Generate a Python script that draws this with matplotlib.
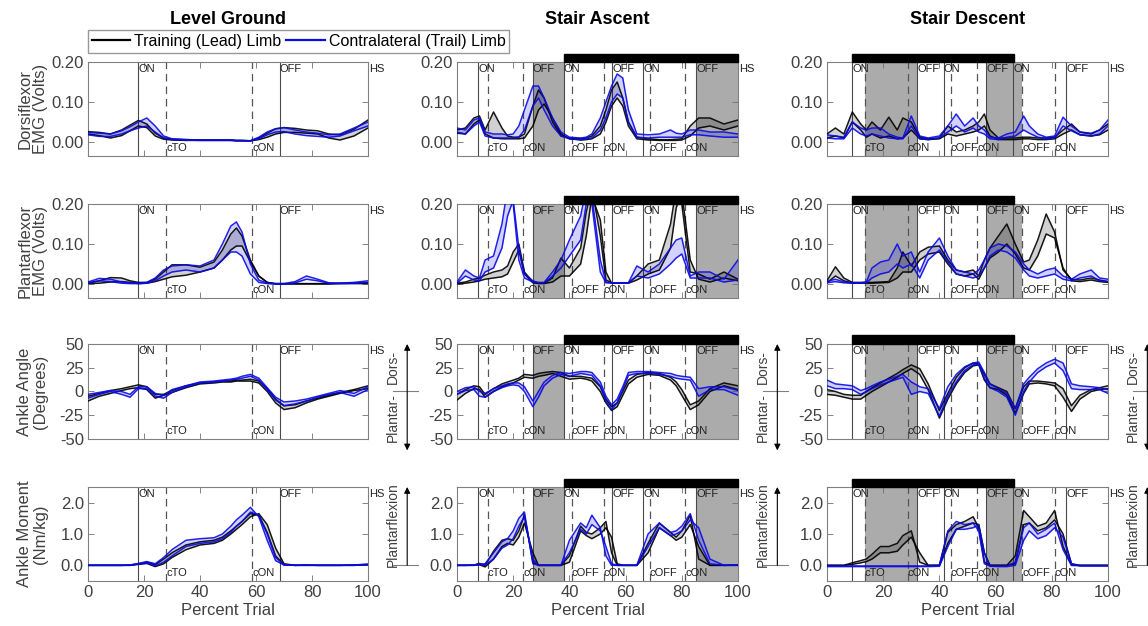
import matplotlib
matplotlib.use("Agg")
import matplotlib.pyplot as plt
import matplotlib.transforms as mtransforms
from matplotlib.patches import Rectangle
from matplotlib.lines import Line2D

plt.rcParams['font.family'] = ['Liberation Sans', 'DejaVu Sans']

# ---------------- data (percent trial knots per task) ----------------
x_level = [0, 4, 8, 12, 15, 18, 21, 24, 27, 30, 35, 40, 45, 48, 51, 53, 55, 58, 61, 64,
           67, 70, 74, 78, 82, 86, 90, 95, 100]
x_ascent = [0, 3, 6, 8, 10, 13, 16, 18, 20, 22, 24, 27, 29, 31, 34, 37, 40, 44, 46, 48,
            51, 53, 55, 57, 59, 61, 64, 68, 72, 76, 78, 80, 83, 86, 90, 95, 100]
x_descent = [0, 3, 6, 9, 12, 14, 16, 19, 22, 25, 27, 30, 33, 36, 40, 43, 46, 49, 52, 54,
             56, 58, 61, 64, 67, 70, 72, 75, 78, 81, 84, 87, 90, 94, 97, 100]

# dorsiflexor EMG (V): [trial a, trial b]
dorsi_level_lead = [
    [0.026, 0.024, 0.020, 0.030, 0.042, 0.054, 0.045, 0.022, 0.010, 0.007, 0.006, 0.005, 0.005, 0.005, 0.005,
     0.004, 0.004, 0.003, 0.010, 0.022, 0.033, 0.036, 0.034, 0.030, 0.028, 0.020, 0.018, 0.032, 0.055],
    [0.020, 0.016, 0.010, 0.016, 0.028, 0.040, 0.036, 0.015, 0.007, 0.005, 0.004, 0.004, 0.004, 0.004, 0.004,
     0.003, 0.003, 0.003, 0.006, 0.012, 0.020, 0.024, 0.024, 0.022, 0.020, 0.010, 0.005, 0.015, 0.035]]
dorsi_level_trail = [
    [0.024, 0.022, 0.020, 0.028, 0.038, 0.050, 0.060, 0.040, 0.015, 0.008, 0.006, 0.005, 0.005, 0.005, 0.005,
     0.004, 0.004, 0.003, 0.012, 0.025, 0.033, 0.036, 0.030, 0.025, 0.022, 0.018, 0.020, 0.035, 0.050],
    [0.018, 0.014, 0.014, 0.020, 0.028, 0.035, 0.040, 0.025, 0.010, 0.006, 0.005, 0.004, 0.004, 0.004, 0.004,
     0.003, 0.003, 0.003, 0.008, 0.018, 0.025, 0.026, 0.020, 0.016, 0.014, 0.012, 0.015, 0.028, 0.040]]
dorsi_ascent_lead = [
    [0.030, 0.035, 0.060, 0.065, 0.030, 0.075, 0.035, 0.015, 0.012, 0.012, 0.020, 0.090, 0.130, 0.110, 0.050,
     0.015, 0.010, 0.008, 0.010, 0.015, 0.040, 0.080, 0.130, 0.150, 0.110, 0.050, 0.012, 0.008, 0.006, 0.006,
     0.007, 0.008, 0.040, 0.060, 0.060, 0.045, 0.055],
    [0.022, 0.020, 0.045, 0.055, 0.020, 0.010, 0.008, 0.008, 0.008, 0.008, 0.010, 0.040, 0.080, 0.095, 0.060,
     0.020, 0.008, 0.005, 0.006, 0.008, 0.020, 0.050, 0.090, 0.110, 0.090, 0.040, 0.008, 0.005, 0.004, 0.004,
     0.004, 0.005, 0.015, 0.035, 0.040, 0.030, 0.040]]
dorsi_ascent_trail = [
    [0.035, 0.030, 0.055, 0.060, 0.025, 0.020, 0.020, 0.018, 0.020, 0.040, 0.080, 0.140, 0.140, 0.110, 0.060,
     0.025, 0.012, 0.010, 0.012, 0.020, 0.060, 0.100, 0.140, 0.170, 0.160, 0.080, 0.020, 0.018, 0.020, 0.030,
     0.022, 0.020, 0.030, 0.030, 0.025, 0.025, 0.020],
    [0.025, 0.020, 0.040, 0.050, 0.015, 0.010, 0.010, 0.010, 0.010, 0.012, 0.030, 0.090, 0.110, 0.080, 0.040,
     0.015, 0.008, 0.006, 0.007, 0.010, 0.030, 0.060, 0.100, 0.120, 0.110, 0.050, 0.012, 0.010, 0.012, 0.012,
     0.012, 0.012, 0.018, 0.018, 0.015, 0.012, 0.012]]
dorsi_descent_lead = [
    [0.020, 0.035, 0.020, 0.075, 0.045, 0.030, 0.050, 0.030, 0.062, 0.030, 0.060, 0.050, 0.012, 0.008, 0.010,
     0.040, 0.025, 0.030, 0.040, 0.050, 0.070, 0.030, 0.010, 0.010, 0.010, 0.012, 0.012, 0.010, 0.010, 0.012,
     0.030, 0.045, 0.025, 0.020, 0.030, 0.045],
    [0.010, 0.015, 0.010, 0.050, 0.030, 0.012, 0.020, 0.010, 0.015, 0.008, 0.010, 0.030, 0.008, 0.006, 0.008,
     0.020, 0.015, 0.020, 0.025, 0.030, 0.040, 0.015, 0.006, 0.006, 0.006, 0.008, 0.008, 0.006, 0.006, 0.008,
     0.020, 0.030, 0.018, 0.015, 0.018, 0.030]]
dorsi_descent_trail = [
    [0.018, 0.015, 0.012, 0.050, 0.035, 0.030, 0.035, 0.035, 0.020, 0.012, 0.010, 0.065, 0.015, 0.010, 0.015,
     0.040, 0.070, 0.040, 0.060, 0.040, 0.030, 0.012, 0.010, 0.020, 0.025, 0.065, 0.040, 0.020, 0.012, 0.015,
     0.062, 0.040, 0.025, 0.022, 0.030, 0.055],
    [0.010, 0.008, 0.008, 0.035, 0.020, 0.015, 0.020, 0.015, 0.010, 0.008, 0.008, 0.040, 0.008, 0.006, 0.010,
     0.025, 0.040, 0.025, 0.035, 0.025, 0.020, 0.008, 0.006, 0.012, 0.015, 0.030, 0.022, 0.012, 0.008, 0.010,
     0.040, 0.028, 0.018, 0.015, 0.020, 0.040]]

# plantarflexor EMG (V)
plantar_level_lead = [
    [0.003, 0.008, 0.016, 0.015, 0.008, 0.004, 0.004, 0.012, 0.030, 0.048, 0.048, 0.042, 0.055, 0.085, 0.125,
     0.140, 0.120, 0.060, 0.020, 0.004, 0.001, 0.001, 0.001, 0.001, 0.001, 0.001, 0.002, 0.002, 0.003],
    [0.001, 0.002, 0.005, 0.006, 0.004, 0.001, 0.002, 0.006, 0.012, 0.018, 0.022, 0.030, 0.040, 0.060, 0.085,
     0.095, 0.095, 0.055, 0.020, 0.004, 0.000, 0.000, 0.000, 0.000, 0.000, 0.000, 0.001, 0.001, 0.001]]
plantar_level_trail = [
    [0.005, 0.014, 0.012, 0.005, 0.003, 0.002, 0.004, 0.015, 0.035, 0.045, 0.048, 0.045, 0.060, 0.100, 0.145,
     0.155, 0.130, 0.050, 0.010, 0.002, 0.001, 0.001, 0.006, 0.020, 0.012, 0.003, 0.002, 0.004, 0.008],
    [0.002, 0.008, 0.006, 0.002, 0.001, 0.001, 0.002, 0.008, 0.020, 0.030, 0.035, 0.030, 0.040, 0.060, 0.080,
     0.080, 0.070, 0.025, 0.004, 0.001, 0.000, 0.000, 0.003, 0.012, 0.008, 0.002, 0.001, 0.002, 0.004]]
plantar_ascent_lead = [
    [0.002, 0.005, 0.012, 0.015, 0.022, 0.030, 0.035, 0.045, 0.080, 0.100, 0.030, 0.005, 0.002, 0.002, 0.015,
     0.065, 0.040, 0.090, 0.180, 0.240, 0.120, 0.010, 0.003, 0.003, 0.003, 0.003, 0.020, 0.050, 0.060, 0.150,
     0.240, 0.200, 0.030, 0.025, 0.012, 0.030, 0.012],
    [0.000, 0.002, 0.005, 0.008, 0.012, 0.015, 0.018, 0.025, 0.055, 0.085, 0.025, 0.003, 0.001, 0.001, 0.005,
     0.020, 0.020, 0.050, 0.120, 0.220, 0.160, 0.030, 0.002, 0.002, 0.002, 0.002, 0.010, 0.025, 0.035, 0.090,
     0.190, 0.230, 0.060, 0.012, 0.005, 0.015, 0.008]]
plantar_ascent_trail = [
    [0.005, 0.035, 0.020, 0.015, 0.060, 0.070, 0.150, 0.240, 0.200, 0.060, 0.015, 0.005, 0.004, 0.004, 0.030,
     0.060, 0.110, 0.170, 0.240, 0.200, 0.030, 0.003, 0.003, 0.003, 0.003, 0.003, 0.045, 0.030, 0.050, 0.090,
     0.110, 0.115, 0.020, 0.030, 0.030, 0.012, 0.060],
    [0.002, 0.020, 0.010, 0.008, 0.030, 0.040, 0.090, 0.170, 0.210, 0.090, 0.025, 0.008, 0.003, 0.003, 0.020,
     0.040, 0.070, 0.110, 0.200, 0.220, 0.060, 0.005, 0.002, 0.002, 0.002, 0.002, 0.020, 0.015, 0.025, 0.050,
     0.065, 0.075, 0.015, 0.015, 0.015, 0.005, 0.010]]
plantar_descent_lead = [
    [0.008, 0.043, 0.015, 0.004, 0.004, 0.004, 0.004, 0.005, 0.006, 0.040, 0.080, 0.045, 0.080, 0.092, 0.095,
     0.060, 0.035, 0.030, 0.035, 0.020, 0.060, 0.090, 0.120, 0.150, 0.100, 0.055, 0.060, 0.110, 0.175, 0.130,
     0.035, 0.012, 0.010, 0.015, 0.010, 0.006],
    [0.003, 0.020, 0.008, 0.002, 0.002, 0.002, 0.002, 0.003, 0.004, 0.015, 0.030, 0.030, 0.060, 0.075, 0.080,
     0.050, 0.025, 0.020, 0.025, 0.012, 0.040, 0.065, 0.080, 0.100, 0.075, 0.040, 0.035, 0.070, 0.125, 0.115,
     0.040, 0.008, 0.006, 0.010, 0.006, 0.004]]
plantar_descent_trail = [
    [0.006, 0.012, 0.005, 0.003, 0.003, 0.005, 0.040, 0.055, 0.060, 0.100, 0.070, 0.080, 0.030, 0.080, 0.115,
     0.070, 0.035, 0.030, 0.025, 0.035, 0.060, 0.090, 0.100, 0.095, 0.080, 0.050, 0.035, 0.025, 0.035, 0.040,
     0.020, 0.012, 0.025, 0.035, 0.015, 0.012],
    [0.003, 0.006, 0.003, 0.002, 0.002, 0.003, 0.015, 0.025, 0.030, 0.050, 0.040, 0.050, 0.015, 0.060, 0.085,
     0.055, 0.025, 0.020, 0.015, 0.020, 0.040, 0.070, 0.085, 0.080, 0.065, 0.035, 0.020, 0.015, 0.020, 0.025,
     0.012, 0.008, 0.015, 0.020, 0.008, 0.006]]

# ankle angle (deg)
angle_level_lead = [
    [-5, -2, 1, 3, 5, 7, 5, -3, -3, 1, 6, 9, 10, 11, 11, 12, 12, 13, 11, 3, -8, -15, -14, -10, -7, -4, -1, 2, 6],
    [-10, -5, -2, 1, 3, 4, 2, -7, -4, -1, 4, 8, 9, 10, 10, 11, 11, 11, 9, 0, -12, -19, -17, -12, -8, -5, -2, 1, 3]]
angle_level_trail = [
    [-3, -1, 1, 0, -3, 5, 5, -2, -4, 2, 6, 10, 11, 12, 13, 14, 16, 18, 14, 4, -6, -11, -10, -8, -5, -2, 1, -2, 5],
    [-7, -3, 0, -3, -6, 3, 3, -5, -7, -1, 5, 9, 10, 11, 12, 13, 14, 16, 12, 2, -9, -15, -13, -10, -6, -3, -1, -5, 2]]
angle_ascent_lead = [
    [-3, 2, 6, 5, -3, 3, 8, 10, 12, 14, 18, 17, 19, 20, 21, 20, 16, 16, 15, 14, 5, -8, -16, -12, 0, 12, 18, 20,
     19, 15, 10, 2, -14, -10, 3, 9, 6],
    [-9, -2, 3, 2, -6, 0, 5, 7, 9, 12, 15, 14, 16, 17, 19, 16, 13, 14, 13, 11, 0, -12, -20, -16, -4, 8, 15, 18,
     17, 12, 6, -4, -19, -14, 0, 6, 2]]
angle_ascent_trail = [
    [0, 4, 5, 0, -2, 3, 6, 8, 9, 9, 5, -10, 0, 10, 17, 20, 19, 21, 21, 20, 10, -5, -14, -8, 5, 20, 21, 21, 20,
     19, 17, 16, 15, 3, 5, 5, 1],
    [-3, 1, 2, -5, -6, 0, 4, 6, 7, 6, 0, -16, -6, 6, 14, 18, 16, 19, 18, 17, 6, -10, -19, -12, 2, 17, 19, 19, 18,
     16, 14, 13, 12, -5, 2, 2, -4]]
angle_descent_lead = [
    [2, 0, -3, -4, -4, 0, 4, 9, 14, 19, 23, 28, 24, 8, -20, -2, 15, 25, 30, 29, 18, 8, 4, 0, -18, 5, 11, 11, 10,
     9, 3, -15, -4, 2, 4, 6],
    [-3, -4, -6, -8, -8, -4, 0, 5, 10, 15, 19, 24, 18, 2, -28, -8, 8, 20, 27, 28, 12, 4, 2, -4, -23, -2, 8, 9, 8,
     6, -6, -21, -8, 0, 2, 3]]
angle_descent_trail = [
    [12, 8, 7, 6, 1, 3, 6, 10, 13, 16, 18, 10, 5, 3, -18, 5, 18, 26, 30, 31, 20, 8, 3, -2, -18, 8, 15, 24, 30,
     34, 30, 8, 6, 5, 4, 2],
    [6, 3, 3, 2, -3, 0, 3, 7, 10, 13, 15, -3, 0, -2, -26, -5, 10, 22, 28, 29, 14, 4, 0, -6, -25, 0, 10, 20, 26,
     30, 22, 3, 2, 2, 2, -2]]

# ankle moment (Nm/kg)
moment_level_lead = [
    [0.0, 0.0, 0.0, 0.0, 0.01, 0.05, 0.10, 0.02, 0.20, 0.40, 0.65, 0.75, 0.80, 0.90, 1.10, 1.25, 1.40, 1.65,
     1.60, 1.05, 0.30, 0.02, 0.0, 0.01, 0.0, 0.0, 0.0, 0.01, 0.03],
    [0.0, 0.0, 0.0, 0.0, 0.0, 0.03, 0.06, -0.04, 0.05, 0.25, 0.50, 0.65, 0.70, 0.80, 1.00, 1.15, 1.30, 1.55,
     1.65, 1.30, 0.55, 0.05, 0.0, 0.0, 0.0, 0.0, 0.0, 0.0, 0.02]]
moment_level_trail = [
    [0.0, 0.0, 0.0, 0.0, 0.01, 0.06, 0.12, 0.05, 0.25, 0.50, 0.80, 0.85, 0.88, 1.00, 1.25, 1.45, 1.60, 1.85,
     1.55, 0.80, 0.15, 0.01, 0.0, 0.01, 0.0, 0.0, 0.0, 0.01, 0.04],
    [0.0, 0.0, 0.0, 0.0, 0.0, 0.04, 0.08, -0.02, 0.10, 0.30, 0.60, 0.70, 0.75, 0.85, 1.05, 1.25, 1.40, 1.70,
     1.60, 1.00, 0.25, 0.02, 0.0, 0.0, 0.0, 0.0, 0.0, 0.0, 0.02]]
moment_ascent_lead = [
    [0.0, 0.0, 0.01, 0.06, 0.0, 0.45, 0.80, 0.85, 0.80, 1.10, 1.60, 0.10, 0.0, 0.0, 0.0, 0.0, 0.30, 1.25, 1.05,
     1.00, 1.20, 1.40, 0.40, 0.0, 0.0, 0.0, 0.0, 0.70, 1.35, 1.05, 0.90, 1.10, 1.60, 0.20, 0.0, 0.0, 0.01],
    [0.0, 0.0, 0.0, 0.02, -0.05, 0.20, 0.60, 0.70, 0.65, 0.90, 1.35, 0.40, 0.0, 0.0, 0.0, 0.0, 0.10, 1.10, 0.95,
     0.85, 1.00, 1.20, 0.90, 0.05, 0.0, 0.0, 0.0, 0.40, 1.20, 0.95, 0.80, 0.90, 1.30, 0.60, 0.0, 0.0, 0.0]]
moment_ascent_trail = [
    [0.0, 0.0, 0.01, 0.04, 0.05, 0.40, 0.75, 0.85, 1.10, 1.50, 1.70, 0.05, 0.0, 0.0, 0.0, 0.0, 0.80, 1.35, 1.20,
     1.60, 1.20, 0.30, 0.0, 0.0, 0.0, 0.0, 0.0, 1.00, 1.35, 1.05, 1.10, 1.25, 1.65, 0.80, 0.05, 0.0, 0.01],
    [0.0, 0.0, 0.0, 0.02, 0.0, 0.20, 0.55, 0.65, 0.85, 1.25, 1.55, 0.20, 0.0, 0.0, 0.0, 0.0, 0.40, 1.15, 1.00,
     1.30, 1.10, 0.60, 0.05, 0.0, 0.0, 0.0, 0.0, 0.60, 1.20, 0.95, 1.00, 1.10, 1.45, 1.20, 0.20, 0.0, 0.0]]
moment_descent_lead = [
    [0.0, 0.0, 0.0, 0.08, 0.15, 0.20, 0.35, 0.60, 0.60, 0.70, 0.95, 1.10, 0.10, 0.0, 0.0, 1.05, 1.30, 1.40,
     1.55, 1.20, 0.10, 0.0, 0.0, 0.0, 0.30, 1.75, 1.55, 1.25, 1.35, 1.75, 0.60, 0.0, 0.0, 0.0, 0.0, 0.0],
    [0.0, 0.0, 0.0, 0.03, 0.08, 0.12, 0.20, 0.40, 0.40, 0.45, 0.65, 0.90, 0.40, 0.0, 0.0, 0.70, 1.15, 1.25,
     1.35, 1.30, 0.40, 0.0, 0.0, 0.0, 0.05, 1.30, 1.35, 1.10, 1.20, 1.45, 1.00, 0.05, 0.0, 0.0, 0.0, 0.0]]
moment_descent_trail = [
    [-0.02, -0.02, -0.02, -0.02, -0.02, -0.02, -0.02, -0.02, -0.02, -0.02, -0.02, -0.02, -0.02, -0.02, 0.0,
     1.10, 1.40, 1.30, 1.35, 1.10, 0.05, -0.02, -0.02, -0.02, 0.10, 1.20, 1.35, 1.00, 1.15, 1.35, 0.50, 0.0,
     -0.01, -0.01, -0.01, -0.01],
    [-0.04, -0.04, -0.04, -0.04, -0.04, -0.04, -0.04, -0.04, -0.04, -0.04, -0.04, -0.04, -0.04, -0.04, -0.03,
     0.60, 1.15, 1.15, 1.20, 1.30, 0.40, -0.03, -0.04, -0.04, 0.0, 0.80, 1.10, 0.85, 0.95, 1.20, 0.90, 0.05,
     -0.02, -0.02, -0.02, -0.02]]

# gait events (percent trial)
level_top = [(18.0, 'ON'), (68.5, 'OFF')]
level_bottom = [(28.0, 'cTO'), (58.7, 'cON')]
level_gray = []
level_bar = None

ascent_top = [(7.6, 'ON'), (27.0, 'OFF'), (38.0, 'ON'), (55.2, 'OFF'), (66.2, 'ON'), (85.2, 'OFF')]
ascent_bottom = [(11.0, 'cTO'), (23.6, 'cON'), (40.9, 'cOFF'), (52.3, 'cON'), (68.6, 'cOFF'), (81.3, 'cON')]
ascent_gray = [(27.0, 38.0), (85.2, 100.0)]
ascent_bar = (38.0, 100.0)

descent_top = [(8.9, 'ON'), (32.2, 'OFF'), (41.6, 'ON'), (56.7, 'OFF'), (66.2, 'ON'), (85.2, 'OFF')]
descent_bottom = [(13.4, 'cTO'), (28.8, 'cON'), (44.0, 'cOFF'), (53.5, 'cON'), (69.4, 'cOFF'), (81.0, 'cON')]
descent_gray = [(13.4, 32.2), (56.7, 69.4)]
descent_bar = (8.9, 66.4)

titles = ['Level Ground', 'Stair Ascent', 'Stair Descent']
row_labels = ['Dorsiflexor\nEMG (Volts)', 'Plantarflexor\nEMG (Volts)',
              'Ankle Angle\n(Degrees)', 'Ankle Moment\n(Nm/kg)']

# ---------------- layout ----------------
W, H = 1148, 626
fig = plt.figure(figsize=(W / 100, H / 100), dpi=100)

col_px = [(88, 368), (457, 738), (827, 1108)]
row_px = [(62, 156), (204, 298), (344, 439), (487, 581)]

columns = [
    (x_level, level_top, level_bottom, level_gray, level_bar),
    (x_ascent, ascent_top, ascent_bottom, ascent_gray, ascent_bar),
    (x_descent, descent_top, descent_bottom, descent_gray, descent_bar),
]
data = [
    [(dorsi_level_lead, dorsi_level_trail), (dorsi_ascent_lead, dorsi_ascent_trail),
     (dorsi_descent_lead, dorsi_descent_trail)],
    [(plantar_level_lead, plantar_level_trail), (plantar_ascent_lead, plantar_ascent_trail),
     (plantar_descent_lead, plantar_descent_trail)],
    [(angle_level_lead, angle_level_trail), (angle_ascent_lead, angle_ascent_trail),
     (angle_descent_lead, angle_descent_trail)],
    [(moment_level_lead, moment_level_trail), (moment_ascent_lead, moment_ascent_trail),
     (moment_descent_lead, moment_descent_trail)],
]
ylims = [(-0.035, 0.20), (-0.035, 0.20), (-50, 50), (-0.5, 2.5)]
yticks = [[0, 0.1, 0.2], [0, 0.1, 0.2], [-50, -25, 0, 25, 50], [0, 1, 2]]
yfmt = ['{:.2f}', '{:.2f}', '{:.0f}', '{:.1f}']

LEAD = '#000000'
TRAIL = '#0a0ae6'
TXT = '#404040'
EV = 8

for r in range(4):
    for c in range(3):
        x0, x1 = col_px[c]
        y0, y1 = row_px[r]
        ax = fig.add_axes([x0 / W, 1 - y1 / H, (x1 - x0) / W, (y1 - y0) / H])
        xs, top_ev, bot_ev, gray, bar = columns[c]
        lead, trail = data[r][c]

        for a, b in gray:
            ax.axvspan(a, b, color='#ababab', lw=0, zorder=0)
        for xe, _ in top_ev:
            ax.axvline(xe, color='#4a4a4a', lw=0.8, zorder=1)
        for xe, _ in bot_ev:
            ax.axvline(xe, color='#555555', lw=0.9, ls=(0, (6, 4)), zorder=1)

        ax.fill_between(xs, lead[0], lead[1], color=LEAD, alpha=0.18, lw=0, zorder=2)
        for tr in lead:
            ax.plot(xs, tr, color=LEAD, lw=1.1, alpha=0.9, zorder=3)
        ax.fill_between(xs, trail[0], trail[1], color=TRAIL, alpha=0.18, lw=0, zorder=2)
        for tr in trail:
            ax.plot(xs, tr, color=TRAIL, lw=1.1, alpha=0.9, zorder=3)

        ax.set_xlim(0, 100)
        ax.set_ylim(*ylims[r])
        ax.set_xticks([0, 20, 40, 60, 80, 100])
        ax.set_yticks(yticks[r])
        ax.set_yticklabels([yfmt[r].format(v) for v in yticks[r]])
        ax.tick_params(direction='in', top=True, right=True, length=4, width=0.6,
                       color='#707070', labelcolor=TXT, labelsize=12, pad=3)
        for s in ax.spines.values():
            s.set_color('#808080')
            s.set_linewidth(0.8)
        if r < 3:
            ax.set_xticklabels([])
        else:
            ax.set_xlabel('Percent Trial', fontsize=12, color=TXT, labelpad=2)
        if c == 0:
            ax.set_ylabel(row_labels[r], fontsize=12, color=TXT, linespacing=1.05)
            ax.yaxis.set_label_coords(-0.143, 0.5)

        tr_top = mtransforms.blended_transform_factory(ax.transData, ax.transAxes)
        for xe, name in top_ev:
            ax.text(xe, 0.975, name, transform=tr_top, fontsize=EV, va='top', ha='left', color='#202020')
        ax.text(100.5, 0.975, 'HS', transform=tr_top, fontsize=EV, va='top', ha='left',
                color='#202020', clip_on=False)
        for xe, name in bot_ev:
            ax.text(xe, 0.03, name, transform=tr_top, fontsize=EV, va='bottom', ha='left', color='#202020')

        if bar is not None:
            ax.add_patch(Rectangle((bar[0], 1.0), bar[1] - bar[0], 8.5 / (y1 - y0),
                                   transform=tr_top, color='black', clip_on=False, zorder=5))

        # right-hand direction annotations
        tr_side = mtransforms.blended_transform_factory(ax.transAxes, ax.transData)
        if r == 2:
            ax.text(1.088, 26, 'Dors-', transform=tr_side, rotation=90, fontsize=10,
                    color=TXT, ha='center', va='center', clip_on=False)
            ax.text(1.088, -27, 'Plantar-', transform=tr_side, rotation=90, fontsize=10,
                    color=TXT, ha='center', va='center', clip_on=False)
            ax.annotate('', xy=(1.14, 50), xytext=(1.14, -62), xycoords=tr_side, textcoords=tr_side,
                        arrowprops=dict(arrowstyle='<|-|>', color='black', lw=0.8,
                                        mutation_scale=9, shrinkA=0, shrinkB=0), annotation_clip=False)
            ax.add_line(Line2D([1.09, 1.178], [0, 0], transform=tr_side, color='#808080',
                               lw=0.8, clip_on=False))
        if r == 3:
            ax.text(1.088, 1.3, 'Plantarflexion', transform=tr_side, rotation=90, fontsize=10,
                    color=TXT, ha='center', va='center', clip_on=False)
            ax.annotate('', xy=(1.14, 2.5), xytext=(1.14, 0), xycoords=tr_side, textcoords=tr_side,
                        arrowprops=dict(arrowstyle='-|>', color='black', lw=0.8,
                                        mutation_scale=9, shrinkA=0, shrinkB=0), annotation_clip=False)
            ax.add_line(Line2D([1.09, 1.178], [0, 0], transform=tr_side, color='#808080',
                               lw=0.8, clip_on=False))

for c, t in enumerate(titles):
    cx = (col_px[c][0] + col_px[c][1]) / 2 / W
    fig.text(cx, 1 - 20 / H, t, fontsize=13, fontweight='bold', ha='center', va='center')

handles = [Line2D([], [], color=LEAD, lw=1.6), Line2D([], [], color=TRAIL, lw=1.6)]
fig.legend(handles, ['Training (Lead) Limb', 'Contralateral (Trail) Limb'],
           loc='lower left', bbox_to_anchor=(88 / W, 1 - 53 / H), ncol=2, frameon=True,
           fancybox=False, edgecolor='#808080', fontsize=11.5, handlelength=2.4,
           handletextpad=0.25, columnspacing=0.3, borderpad=0.25, borderaxespad=0)

fig.savefig('out.png', dpi=100)
